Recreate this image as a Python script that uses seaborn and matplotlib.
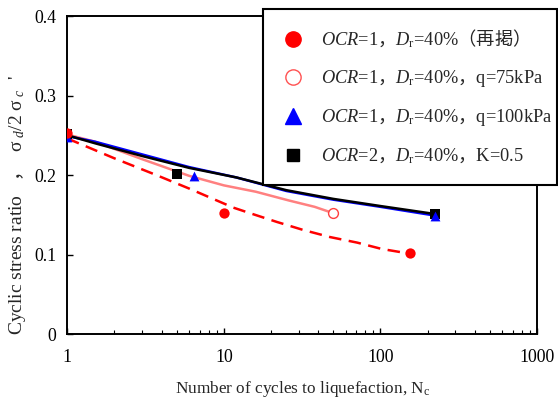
import seaborn as sns
import matplotlib.pyplot as plt
from matplotlib.lines import Line2D
from matplotlib.ticker import FuncFormatter, MultipleLocator, LogLocator

# measured points (number of cycles, cyclic stress ratio)
n_ocr1 = [1, 10, 155]
csr_ocr1 = [0.253, 0.152, 0.102]
n_q75 = [50]
csr_q75 = [0.152]
n_q100 = [1, 6.45, 223]
csr_q100 = [0.248, 0.199, 0.148]
n_ocr2 = [1, 5, 223]
csr_ocr2 = [0.252, 0.201, 0.151]

# fitted curves
n_fit_ocr1 = [1, 2, 3.7, 6, 11.5, 14.7, 21.8, 32, 47.6, 71, 102, 155]
csr_fit_ocr1 = [0.246, 0.221, 0.200, 0.183, 0.159, 0.152, 0.141, 0.131, 0.122, 0.115, 0.107, 0.101]
n_fit_q75 = [1, 1.5, 3, 6, 10, 16, 26, 38, 50]
csr_fit_q75 = [0.251, 0.242, 0.220, 0.199, 0.187, 0.179, 0.168, 0.160, 0.152]
n_fit_q100 = [1, 1.5, 3, 6, 12, 25, 50, 100, 223]
csr_fit_q100 = [0.249, 0.242, 0.226, 0.210, 0.197, 0.180, 0.169, 0.160, 0.149]
n_fit_ocr2 = [1, 1.5, 3, 6, 12, 25, 50, 100, 223]
csr_fit_ocr2 = [0.250, 0.240, 0.224, 0.209, 0.197, 0.181, 0.170, 0.161, 0.151]

labels = [
    r"$\mathit{OCR}$=1$\mathsf{，}\mathit{D}_\mathrm{r}$=40%$\mathsf{（再掲）}$",
    r"$\mathit{OCR}$=1$\mathsf{，}\mathit{D}_\mathrm{r}$=40%$\mathsf{，}$q=75kPa",
    r"$\mathit{OCR}$=1$\mathsf{，}\mathit{D}_\mathrm{r}$=40%$\mathsf{，}$q=100kPa",
    r"$\mathit{OCR}$=2$\mathsf{，}\mathit{D}_\mathrm{r}$=40%$\mathsf{，}$K=0.5",
]

sns.set_style("ticks")
plt.rcParams["font.family"] = ["Liberation Serif", "Noto Sans CJK JP"]
plt.rcParams["mathtext.fontset"] = "custom"
plt.rcParams["mathtext.rm"] = "Liberation Serif"
plt.rcParams["mathtext.it"] = "Liberation Serif:italic"
plt.rcParams["mathtext.sf"] = "Noto Sans CJK JP"

pink = "#FF8080"

fig = plt.figure(figsize=(5.58, 4.01), dpi=100)
ax = fig.add_axes([0.1206, 0.167, 0.8418, 0.793])

# curves
sns.lineplot(x=n_fit_ocr1, y=csr_fit_ocr1, color="red", lw=1.8,
             linestyle=(0, (5, 3)), ax=ax)
sns.lineplot(x=n_fit_q75, y=csr_fit_q75, color=pink, lw=1.8, ax=ax)
sns.lineplot(x=n_fit_q100, y=csr_fit_q100, color="blue", lw=1.8, ax=ax)
sns.lineplot(x=n_fit_ocr2, y=csr_fit_ocr2, color="black", lw=1.8, ax=ax)

# points
sns.scatterplot(x=n_ocr2, y=csr_ocr2, marker="s", color="black", s=45,
                linewidth=0, zorder=5, ax=ax)
sns.scatterplot(x=n_q100, y=csr_q100, marker="^", color="blue", s=50,
                linewidth=0, zorder=5, ax=ax)
sns.scatterplot(x=n_q75, y=csr_q75, marker="o", color="white", s=50,
                edgecolor="#FF4040", linewidth=1, zorder=6, ax=ax)
sns.scatterplot(x=n_ocr1, y=csr_ocr1, marker="o", color="red", s=55,
                linewidth=0, zorder=6, ax=ax)

ax.set_xscale("log")
ax.set_xlim(1, 1000)
ax.set_ylim(0, 0.4)
ax.yaxis.set_major_locator(MultipleLocator(0.1))
ax.xaxis.set_minor_locator(LogLocator(base=10, subs=range(2, 10)))
ax.xaxis.set_major_formatter(FuncFormatter(lambda v, p: "%g" % v))
ax.yaxis.set_major_formatter(FuncFormatter(lambda v, p: "%g" % v))

ax.tick_params(which="both", direction="in", top=False, right=False,
               labelsize=12.8, colors="black")
ax.tick_params(which="major", length=4, width=1)
ax.tick_params(which="minor", length=3, width=0.8)
ax.tick_params(axis="x", pad=11)
ax.tick_params(axis="y", pad=8)
for sp in ax.spines.values():
    sp.set_linewidth(1.4)
    sp.set_color("black")

ax.set_xlabel(r"Number of cycles to liquefaction, N$_\mathrm{c}$",
              fontsize=12.4, labelpad=9)
ax.set_ylabel(r"Cyclic stress ratio   $\mathsf{，}$  $\mathrm{\sigma}_{\ d}$/2 $\mathrm{\sigma}_{\ c}$  '",
              fontsize=14)
ax.yaxis.set_label_coords(-0.083, 0.406)

handles = [
    Line2D([], [], ls="none", marker="o", color="red", markersize=11),
    Line2D([], [], ls="none", marker="o", markerfacecolor="white",
           markeredgecolor="#FF5050", markeredgewidth=1, markersize=11),
    Line2D([], [], ls="none", marker="^", color="blue", markersize=11),
    Line2D([], [], ls="none", marker="s", color="black", markersize=9),
]
leg = ax.legend(handles, labels, loc="upper left",
                bbox_to_anchor=(0.417, 0.5, 0.626, 0.522), mode="expand",
                borderaxespad=0, fancybox=False, framealpha=1,
                edgecolor="black", prop={"size": 13.2},
                borderpad=1.0, labelspacing=1.0, handlelength=1.2,
                handletextpad=0.95)
leg.get_frame().set_linewidth(1.5)

fig.savefig("out.png", dpi=100)
